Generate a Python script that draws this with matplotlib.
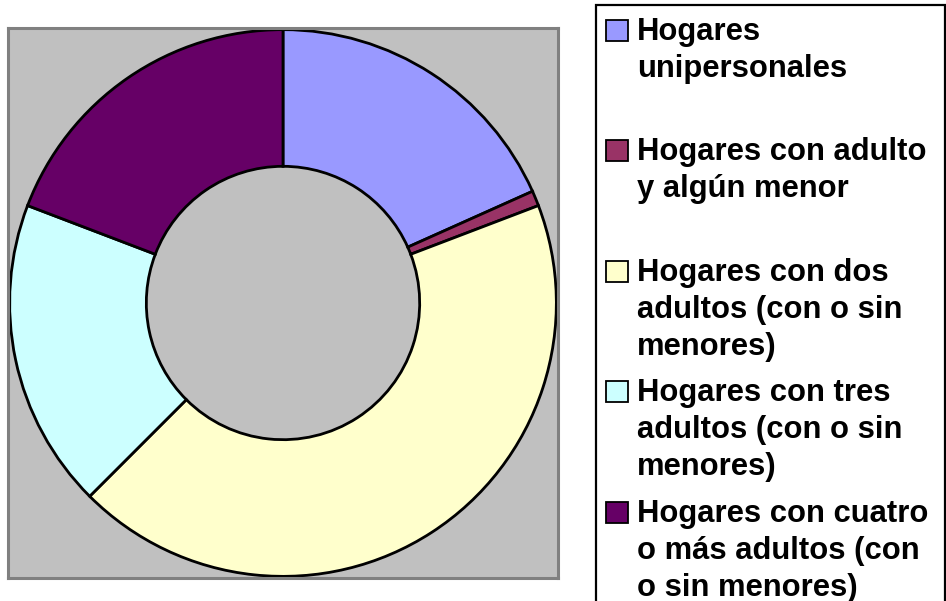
import matplotlib
matplotlib.use('Agg')
import matplotlib.pyplot as plt
from matplotlib.patches import Rectangle

plt.rcParams['font.family'] = ['Liberation Sans', 'DejaVu Sans']

# household types (share of households, %)
categories = [
    'Hogares\nunipersonales',
    'Hogares con adulto\ny algún menor',
    'Hogares con dos\nadultos (con o sin\nmenores)',
    'Hogares con tres\nadultos (con o sin\nmenores)',
    'Hogares con cuatro\no más adultos (con\no sin menores)',
]
shares = [18.3, 0.9, 43.3, 18.3, 19.2]
colors = ['#9999FF', '#993366', '#FFFFCC', '#CCFFFF', '#660066']

W, H = 946, 601
fig = plt.figure(figsize=(W / 100, H / 100), dpi=100)
fig.patch.set_facecolor('white')


def fx(px):
    return px / W


def fy(py):
    return 1 - py / H


# plot area: gray square with the donut
ax = fig.add_axes([fx(8), fy(578), 550 / W, 550 / H])
ax.pie(shares, colors=colors, startangle=90, counterclock=False, radius=1.0,
       frame=True,
       wedgeprops=dict(width=0.5, edgecolor='black', linewidth=2.0))
ax.set_facecolor('#C0C0C0')
ax.set_frame_on(True)
ax.set_xlim(-1.006, 1.006)
ax.set_ylim(-1.006, 1.006)
ax.set_aspect('auto')
ax.set_xticks([])
ax.set_yticks([])
for sp in ax.spines.values():
    sp.set_visible(True)
    sp.set_color('#808080')
    sp.set_linewidth(2.2)

# legend box (runs off the bottom edge like the original)
fig.patches.append(Rectangle((fx(596), fy(640)), fx(945) - fx(596), fy(5) - fy(640),
                             transform=fig.transFigure, facecolor='white',
                             edgecolor='black', linewidth=1.6, zorder=1))

baselines = [40, 160, 281, 401, 522]
line_gap = 37
for label, col, base in zip(categories, colors, baselines):
    fig.patches.append(Rectangle((fx(606), fy(base + 1)), 22 / W, 21.5 / H,
                                 transform=fig.transFigure, facecolor=col,
                                 edgecolor='black', linewidth=1.3, zorder=2))
    for i, line in enumerate(label.split('\n')):
        fig.text(fx(637), fy(base + i * line_gap), line, fontsize=22.3,
                 fontweight='bold', va='baseline', ha='left', zorder=3)

fig.savefig('out.png', dpi=100)
